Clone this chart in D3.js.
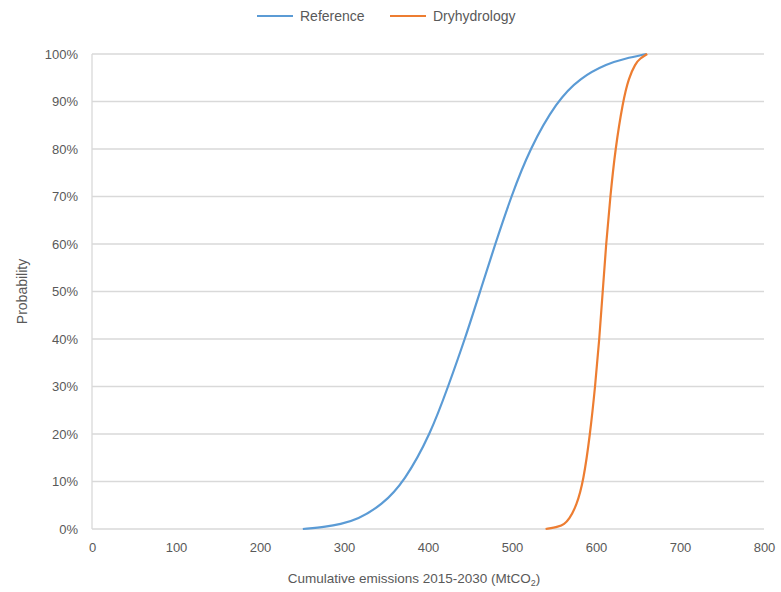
<!DOCTYPE html>
<html>
<head>
<meta charset="utf-8">
<script src="https://cdn.jsdelivr.net/npm/d3@7"></script>
<style>
  body { margin: 0; background: #fff; }
  text { font-family: "Liberation Sans", Arial, sans-serif; fill: #595959; }
</style>
</head>
<body>
<svg class="chart" width="781" height="592"></svg>
<script>
// cumulative probability levels
var probLevels = [0, 0.005, 0.01, 0.02, 0.05, 0.1, 0.2, 0.3, 0.4, 0.5, 0.6, 0.7, 0.8, 0.9, 0.95, 0.98, 0.99, 1.0];
// emissions (MtCO2) at each probability level
var referenceValues = [251, 280, 295, 316, 345, 372, 403, 424, 444, 462, 480, 499, 521, 553, 581, 614, 634, 660];
var dryValues = [540, 556, 562, 568, 577, 585, 593, 599, 604, 608, 612, 617, 623, 632, 639, 647, 652, 661];
var seriesNames = ["Reference", "Dryhydrology"];
var seriesColors = ["#5b9bd5", "#ed7d31"];
var xTicks = [0, 100, 200, 300, 400, 500, 600, 700, 800];
var yTicks = [0, 0.1, 0.2, 0.3, 0.4, 0.5, 0.6, 0.7, 0.8, 0.9, 1.0];

var svg = d3.select("svg.chart");
var plotL = 92, plotR = 764, plotT = 54, plotB = 529;

var x = d3.scaleLinear().domain([0, 800]).range([plotL, plotR]);
var y = d3.scaleLinear().domain([0, 1]).range([plotB, plotT]);

//gridlines
svg.append("g")
    .selectAll("line")
    .data(yTicks)
    .enter()
    .append("line")
        .attr("x1", plotL).attr("x2", plotR)
        .attr("y1", d => y(d)).attr("y2", d => y(d))
        .style("stroke", "#d9d9d9")
        .style("stroke-width", 1.3);

//vertical axis line
svg.append("line")
    .attr("x1", plotL).attr("x2", plotL)
    .attr("y1", plotT).attr("y2", plotB)
    .style("stroke", "#d9d9d9")
    .style("stroke-width", 1.3);

//y tick labels
var yAxis = d3.axisLeft(y).tickValues(yTicks).tickFormat(d3.format(".0%")).tickSize(0).tickPadding(14);
svg.append("g")
    .attr("transform", `translate(${plotL},0)`)
    .call(yAxis)
    .call(g => g.select(".domain").remove())
    .selectAll("text")
        .style("font-size", "13px")
        .style("fill", "#595959");

//x tick labels
var xAxis = d3.axisBottom(x).tickValues(xTicks).tickSize(0).tickPadding(14);
svg.append("g")
    .attr("transform", `translate(0,${plotB})`)
    .call(xAxis)
    .call(g => g.select(".domain").remove())
    .selectAll("text")
        .style("font-size", "13px")
        .style("fill", "#595959");
svg.selectAll("g.tick").select(function() { return this.parentNode; }).attr("font-family", null);

//lines (smoothed through the read-off points)
var series = [referenceValues, dryValues];
var line = d3.line()
    .x(d => x(d[0]))
    .y(d => y(d[1]))
    .curve(d3.curveBasis);

svg.append("g")
    .selectAll("path")
    .data(series)
    .enter()
    .append("path")
        .attr("d", vals => line(vals.map((v, i) => [v, probLevels[i]])))
        .attr("fill", "none")
        .style("stroke", (d, i) => seriesColors[i])
        .style("stroke-width", 2.2);

//axis titles
var xTitle = svg.append("text")
    .attr("x", 414)
    .attr("y", 583)
    .attr("text-anchor", "middle")
    .style("font-size", "13.5px");
xTitle.append("tspan").text("Cumulative emissions 2015-2030 (MtCO");
xTitle.append("tspan").text("2").attr("dy", 3).style("font-size", "9px");
xTitle.append("tspan").text(")").attr("dy", -3);

svg.append("text")
    .attr("transform", `translate(27,${(plotT + plotB) / 2}) rotate(-90)`)
    .attr("text-anchor", "middle")
    .style("font-size", "14px")
    .text("Probability");

//legend
var legendX = [257, 390];
var legend = svg.append("g")
    .selectAll("g")
    .data(seriesNames)
    .enter()
    .append("g")
        .attr("transform", (d, i) => `translate(${legendX[i]},16)`);
legend.append("line")
    .attr("x1", 0).attr("x2", 36)
    .style("stroke", (d, i) => seriesColors[i])
    .style("stroke-width", 2.2);
legend.append("text")
    .attr("x", 43)
    .attr("dy", "0.35em")
    .style("font-size", "14px")
    .text(d => d);
</script>
</body>
</html>
